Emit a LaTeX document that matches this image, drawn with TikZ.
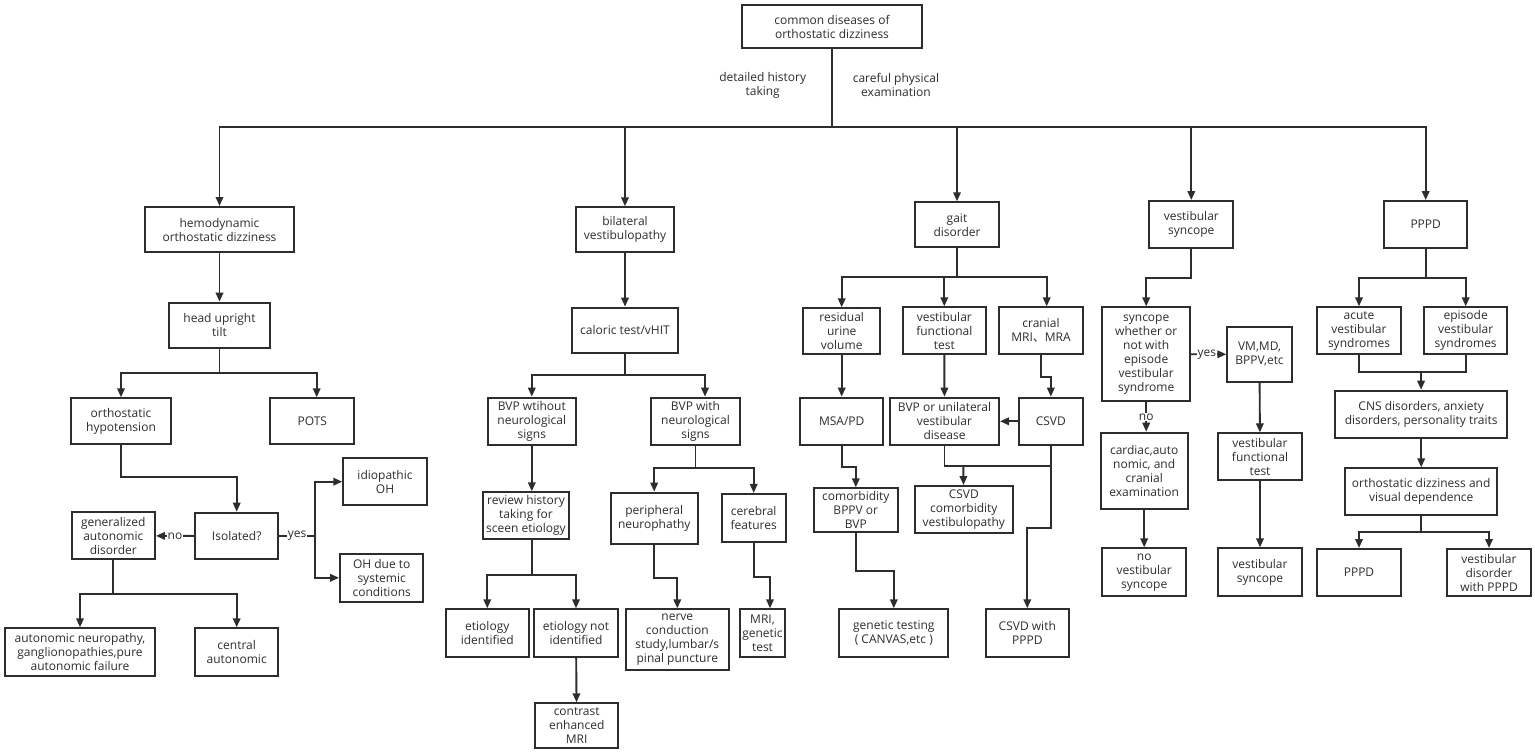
\documentclass[tikz,border=0pt]{standalone}
\usepackage{fontspec}
\setmainfont{Open Sans}
\newfontfamily\cjk{Noto Sans CJK SC}
\usetikzlibrary{arrows.meta}
\definecolor{lineColor}{RGB}{45,45,45}
\tikzstyle{chart} = [x = 1pt, y = -1pt]
\tikzstyle{boxStyle} = [draw = lineColor, line width = 2pt, text = lineColor, align = center, inner sep = 1pt, font = \fontsize{12}{14}\selectfont]
\tikzstyle{lineStyle} = [draw = lineColor, line width = 1.9pt]
\tikzstyle{arrowStyle} = [lineStyle, -{Triangle[length = 9pt, width = 7.5pt]}]
\tikzstyle{labelStyle} = [fill = white, text = lineColor, align = center, inner sep = 0.5pt, font = \fontsize{12}{14}\selectfont]
\newcommand{\flowBox}[6]{\node [boxStyle, minimum width = #4pt, minimum height = #5pt] (#1) at (#2, #3) {#6};}

\begin{document}
\begin{tikzpicture}[chart]
            \useasboundingbox (0, 0) rectangle (1535, 755);
            \flowBox{root}{832}{26.5}{180}{43}{common diseases of\\orthostatic dizziness}
            \node [labelStyle] (historyLabel) at (762.7, 85) {detailed history\\taking};
            \node [labelStyle] (examLabel) at (896, 85) {careful physical\\examination};

            \flowBox{hemo}{219.5}{229.5}{149}{45}{hemodynamic\\orthostatic dizziness}
            \flowBox{tilt}{219.5}{325.3}{101}{45.3}{head upright\\tilt}
            \flowBox{ohBox}{121}{421}{99.4}{45.4}{orthostatic\\hypotension}
            \flowBox{pots}{312.3}{421}{84}{45.4}{POTS}
            \flowBox{isolated}{236.7}{536}{83.3}{46.6}{Isolated?}
            \flowBox{general}{113.3}{535.8}{83.3}{47}{generalized\\autonomic\\disorder}
            \flowBox{idio}{385}{481.7}{83.4}{46.7}{idiopathic\\OH}
            \flowBox{ohDue}{381.7}{577.8}{83.3}{47.7}{OH due to\\systemic\\conditions}
            \flowBox{autoNeur}{80}{652}{150}{47.4}{autonomic neuropathy,\\ganglionopathies,pure\\autonomic failure}
            \flowBox{central}{236.7}{652}{83.3}{47.4}{central\\autonomic}

            \flowBox{bilateral}{625}{229.8}{98.6}{45}{bilateral\\vestibulopathy}
            \flowBox{caloric}{625}{330.3}{105.4}{45.3}{caloric test/vHIT}
            \flowBox{bvpWithout}{531.8}{421.3}{88.3}{47.3}{BVP wtihout\\neurological\\signs}
            \flowBox{bvpWith}{695.5}{421.3}{89}{47.3}{BVP with\\neurological\\signs}
            \flowBox{review}{526}{515.8}{86.6}{47}{review history\\taking for\\sceen etiology}
            \flowBox{etioId}{487.3}{633}{83.3}{47.4}{etiology\\identified}
            \flowBox{etioNot}{576}{633}{83.4}{47.4}{etiology not\\identified}
            \flowBox{contrast}{576.7}{725.8}{83.3}{45}{contrast\\enhanced\\MRI}
            \flowBox{peripheral}{654.2}{518.3}{87}{51.3}{peripheral\\neurophathy}
            \flowBox{cerebral}{753.7}{517.8}{64}{47.7}{cerebral\\features}
            \flowBox{nerve}{677.3}{639.7}{103.3}{60.7}{nerve\\conduction\\study,lumbar/s\\pinal puncture}
            \flowBox{mriGen}{762.5}{633}{45}{47.4}{MRI,\\genetic\\test}

            \flowBox{gait}{957}{224.8}{84}{45}{gait\\disorder}
            \flowBox{residual}{841.7}{331.2}{76.7}{45.7}{residual\\urine\\volume}
            \flowBox{vestFunc}{944.3}{330.7}{83.3}{46.7}{vestibular\\functional\\test}
            \flowBox{cranial}{1041}{330.7}{83.4}{46.7}{cranial\\MRI{\cjk 、}MRA}
            \flowBox{msapd}{841.7}{421.3}{83.3}{47.3}{MSA/PD}
            \flowBox{bvpUni}{944.5}{421.3}{109}{47.3}{BVP or unilateral\\vestibular\\disease}
            \flowBox{csvd}{1050.8}{421.3}{63.7}{47.3}{CSVD}
            \flowBox{comorb}{855.8}{510}{83.7}{43.4}{comorbidity\\BPPV or\\BVP}
            \flowBox{csvdComorb}{963.8}{509.7}{97.7}{47.3}{CSVD\\comorbidity\\vestibulopathy}
            \flowBox{genetic}{893.8}{633}{109}{47.4}{genetic testing\\( CANVAS,etc )}
            \flowBox{csvdPPPD}{1027.3}{633}{83.3}{47.4}{CSVD with\\PPPD}

            \flowBox{vestSyn}{1191.3}{224.7}{84}{47.3}{vestibular\\syncope}
            \flowBox{syncWhether}{1146.2}{354.2}{87.7}{93.7}{syncope\\whether or\\not with\\episode\\vestibular\\syndrome}
            \flowBox{vm}{1259.5}{354.3}{64.4}{54.7}{VM,MD,\\BPPV,etc}
            \flowBox{vftTwo}{1260}{456.7}{83.4}{46.7}{vestibular\\functional\\test}
            \flowBox{vsTwo}{1260}{572.2}{83.4}{47.7}{vestibular\\syncope}
            \flowBox{cardiac}{1144.2}{471}{87}{76.6}{cardiac,auto\\nomic, and\\cranial\\examination}
            \flowBox{noVest}{1144.2}{572.2}{83.7}{47.7}{no\\vestibular\\syncope}

            \flowBox{pppd}{1425.7}{224.7}{83.3}{47.3}{PPPD}
            \flowBox{acute}{1359}{330.8}{83.4}{47}{acute\\vestibular\\syndromes}
            \flowBox{episode}{1465.7}{330.8}{83.3}{47}{episode\\vestibular\\syndromes}
            \flowBox{cns}{1421.2}{414.2}{172.3}{47}{CNS disorders, anxiety\\disorders, personality traits}
            \flowBox{orthoVis}{1421.2}{491.7}{152.3}{46.7}{orthostatic dizziness and\\visual dependence}
            \flowBox{pppdTwo}{1359}{572.5}{83.4}{47}{PPPD}
            \flowBox{vestDis}{1489}{572.5}{83.4}{47}{vestibular\\disorder\\with PPPD}

            \coordinate (rootSplit) at (832, 127.3);
            \draw [lineStyle] (root) -- (rootSplit);
            \foreach \branch in {hemo, bilateral, gait, vestSyn, pppd} {
              \draw [arrowStyle] (rootSplit) -| (\branch);
            }

            \draw [arrowStyle] (hemo) -- (tilt);
            \coordinate (tiltSplit) at (219.5, 372.7);
            \draw [lineStyle] (tilt) -- (tiltSplit);
            \draw [arrowStyle] (tiltSplit) -| (ohBox);
            \draw [arrowStyle] (tiltSplit) -| ([xshift = 4.4pt]pots.north);
            \coordinate (ohTurn) at (121, 477.3);
            \draw [arrowStyle] (ohBox) -- (ohTurn) -| (isolated);
            \draw [arrowStyle] (isolated) -- node [labelStyle] {no} (general);
            \coordinate (yesSplit) at (315, 536);
            \draw [lineStyle] (isolated) -- node [labelStyle] {yes} (yesSplit);
            \foreach \child in {idio, ohDue} {
              \draw [arrowStyle] (yesSplit) |- (\child);
            }
            \coordinate (generalSplit) at (113.3, 594);
            \draw [lineStyle] (general) -- (generalSplit);
            \foreach \child in {autoNeur, central} {
              \draw [arrowStyle] (generalSplit) -| (\child);
            }

            \draw [arrowStyle] (bilateral) -- (caloric);
            \coordinate (caloricSplit) at (625, 375);
            \draw [lineStyle] (caloric) -- (caloricSplit);
            \draw [arrowStyle] (caloricSplit) -| (bvpWithout);
            \draw [arrowStyle] (caloricSplit) -| ([xshift = 9.5pt]bvpWith.north);
            \draw [arrowStyle] (bvpWithout) -- (bvpWithout |- review.north);
            \coordinate (reviewSplit) at (531.8, 575);
            \draw [lineStyle] (review.south -| reviewSplit) -- (reviewSplit);
            \foreach \child in {etioId, etioNot} {
              \draw [arrowStyle] (reviewSplit) -| (\child);
            }
            \draw [arrowStyle] (etioNot) -- (contrast);
            \coordinate (bvpWithSplit) at (695.5, 468);
            \draw [lineStyle] (bvpWith) -- (bvpWithSplit);
            \foreach \child in {peripheral, cerebral} {
              \draw [arrowStyle] (bvpWithSplit) -| (\child);
            }
            \draw [arrowStyle] (peripheral.south) -- ++(0, 33) -| (nerve);
            \draw [arrowStyle] (cerebral.south) -- ++(0, 34) -| ([xshift = 7.5pt]mriGen.north);

            \coordinate (gaitSplit) at (957, 277.3);
            \draw [lineStyle] (gait) -- (gaitSplit);
            \foreach \child in {residual, vestFunc} {
              \draw [arrowStyle] (gaitSplit) -| (\child);
            }
            \draw [arrowStyle] (gaitSplit) -| ([xshift = 5.7pt]cranial.north);
            \draw [arrowStyle] (residual) -- (msapd);
            \draw [arrowStyle] (vestFunc) -- (bvpUni);
            \draw [arrowStyle] (cranial.south) -- ++(0, 22) -| (csvd);
            \draw [arrowStyle] (csvd) -- (bvpUni);
            \coordinate (csvdJoin) at (963.3, 465.7);
            \draw [lineStyle] (bvpUni.south) |- (csvd.south |- csvdJoin) -- (csvd.south);
            \draw [arrowStyle] (csvdJoin) -- (csvdComorb);
            \draw [arrowStyle] (csvd.south) -- ++(0, 82.3) -| (csvdPPPD);
            \draw [arrowStyle] (msapd.south) -- ++(0, 20.7) -| (comorb);
            \draw [arrowStyle] (comorb.south) -- ++(0, 38.3) -| (genetic);

            \draw [arrowStyle] (vestSyn.south) -- ++(0, 29) -| (syncWhether);
            \draw [arrowStyle] (syncWhether) -- node [labelStyle, pos = 0.45] {yes} (vm);
            \draw [arrowStyle] (syncWhether.south) -- node [labelStyle] {no} (syncWhether.south |- cardiac.north);
            \draw [arrowStyle] (cardiac) -- (noVest);
            \draw [arrowStyle] (vm) -- (vftTwo);
            \draw [arrowStyle] (vftTwo) -- (vsTwo);

            \coordinate (pppdSplit) at (1425.7, 277.7);
            \draw [lineStyle] (pppd) -- (pppdSplit);
            \foreach \child in {acute, episode} {
              \draw [arrowStyle] (pppdSplit) -| (\child);
            }
            \coordinate (pppdJoin) at (1421, 372.3);
            \draw [lineStyle] (acute.south) |- (episode.south |- pppdJoin) -- (episode.south);
            \draw [arrowStyle] (pppdJoin) -- (cns);
            \draw [arrowStyle] (cns) -- (orthoVis);
            \coordinate (orthoSplit) at (1421.2, 531.7);
            \draw [lineStyle] (orthoVis) -- (orthoSplit);
            \foreach \child in {pppdTwo, vestDis} {
              \draw [arrowStyle] (orthoSplit) -| (\child);
            }
          \end{tikzpicture}
\end{document}
